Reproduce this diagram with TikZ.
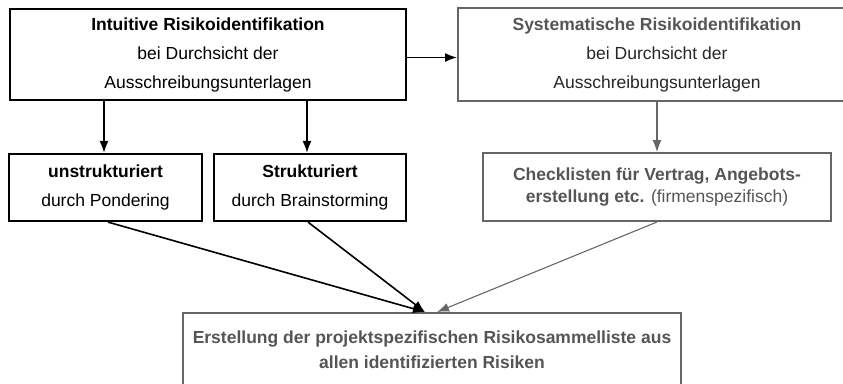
\documentclass[tikz,border=0pt]{standalone}
\usepackage{fontspec}
\setmainfont{Liberation Sans}
\usetikzlibrary{arrows.meta}
\definecolor{boxgray}{HTML}{666666}
\definecolor{textgray}{HTML}{555555}
\begin{document}
\begin{tikzpicture}[x=1pt,y=-1pt,
  box/.style={draw, line width=2.2pt, inner sep=0pt, align=center,
    font=\fontsize{17.5}{29}\selectfont},
  graybox/.style={box, draw=boxgray, line width=2pt, text=textgray},
  link/.style={-{Latex[length=12pt,width=9pt]}, line width=1.6pt},
  graylink/.style={link, draw=boxgray, line width=1.1pt}]
\useasboundingbox (0,0) rectangle (843,383);

% upper row: intuitive and systematic identification
\node[box, minimum width=396pt, minimum height=91pt] (intu) at (208,54.5)
  {\textbf{Intuitive Risikoidentifikation}\\bei Durchsicht der\\Ausschreibungsunterlagen};
\node[graybox, minimum width=398pt, minimum height=93pt] (syst) at (657,54.5)
  {\textbf{Systematische Risikoidentifikation}\\\textcolor{black!85}{bei Durchsicht der}\\\textcolor{black!85}{Ausschreibungsunterlagen}};

% middle row
\node[box, minimum width=193pt, minimum height=67pt] (unstr) at (105.5,187.5)
  {\textbf{unstrukturiert}\\durch Pondering};
\node[box, minimum width=192pt, minimum height=67pt] (strukt) at (310,187.5)
  {\textbf{Strukturiert}\\durch Brainstorming};
\node[graybox, minimum width=348pt, minimum height=68pt,
  font=\fontsize{17.5}{22}\selectfont] (check) at (657,187)
  {\textbf{Checklisten für Vertrag, Angebots-}\\\textbf{erstellung etc.} (firmenspezifisch)};

% bottom: collected risk list
\node[graybox, minimum width=498pt, minimum height=73pt,
  font=\fontsize{17.5}{25}\selectfont\bfseries] (erst) at (432,349.5)
  {Erstellung der projektspezifischen Risikosammelliste aus\\allen identifizierten Risiken};

% connectors
\draw[link] ([yshift=-3pt]intu.east) -- ([yshift=-3pt]syst.west);
\draw[link] (intu.south -| 104,0) -- (unstr.north -| 104,0);
\draw[link] (intu.south -| 307,0) -- (strukt.north -| 307,0);
\draw[graylink] (syst.south) -- (check.north);
\draw[link] ([xshift=2.5pt]unstr.south) -- ([xshift=-7pt]erst.north);
\draw[link] ([xshift=-2pt]strukt.south) -- ([xshift=-7pt]erst.north);
\draw[graylink] (check.south) -- ([xshift=5pt]erst.north);
\end{tikzpicture}
\end{document}
